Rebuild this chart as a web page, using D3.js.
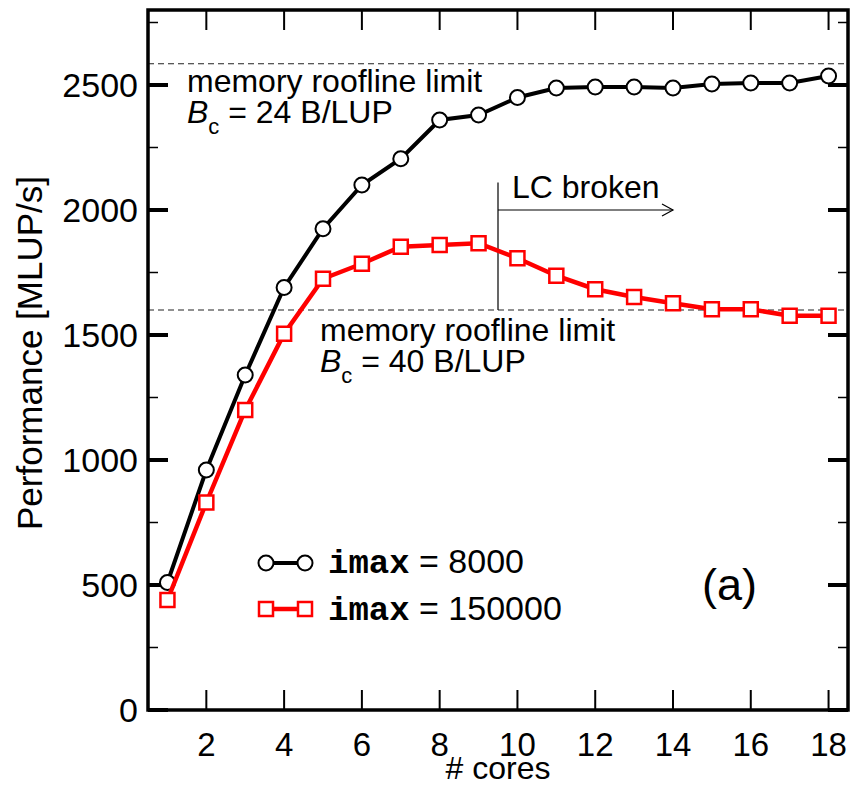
<!DOCTYPE html>
<html>
<head>
<meta charset="utf-8">
<script src="https://cdn.jsdelivr.net/npm/d3@7"></script>
<style>
  html, body { margin: 0; padding: 0; background: #fff; }
  svg { display: block; }
  text { font-family: "Liberation Sans", Arial, Helvetica, sans-serif; fill: #000; }
</style>
</head>
<body>
<svg id="chart" width="852" height="785"></svg>
<script>
// ---- data ----
const cores = [1,2,3,4,5,6,7,8,9,10,11,12,13,14,15,16,17,18];
const imax8000 = [510,960,1340,1690,1925,2100,2205,2360,2380,2450,2488,2492,2492,2488,2504,2508,2508,2536];
const imax150000 = [440,830,1200,1505,1725,1785,1853,1860,1867,1807,1737,1683,1652,1627,1603,1603,1577,1577];
const xTicks = [2,4,6,8,10,12,14,16,18];
const yTicks = [0,500,1000,1500,2000,2500];
const yMinorTicks = [250,750,1250,1750,2250,2750];
const rooflines = [2585, 1600];
const lcBrokenX = 9.5, lcArrowEnd = 14, lcArrowY = 2000, lcTop = 2110;

const svg = d3.select("#chart");
const L = 148, R = 848, T = 10, B = 710;
const x = d3.scaleLinear().domain([0.5, 18.5]).range([L, R]);
const y = d3.scaleLinear().domain([0, 2800]).range([B, T]);

// dashed roofline limits
svg.selectAll("line.roof").data(rooflines).join("line")
  .attr("x1", L).attr("x2", R)
  .attr("y1", d => y(d)).attr("y2", d => y(d))
  .attr("stroke", "#222").attr("stroke-width", 1.2).attr("stroke-dasharray", "6,4");

// LC broken marker
svg.append("line").attr("x1", x(lcBrokenX)).attr("x2", x(lcBrokenX))
  .attr("y1", y(lcTop)).attr("y2", y(rooflines[1]))
  .attr("stroke", "#000").attr("stroke-width", 1.2);
svg.append("line").attr("x1", x(lcBrokenX)).attr("x2", x(lcArrowEnd))
  .attr("y1", y(lcArrowY)).attr("y2", y(lcArrowY))
  .attr("stroke", "#000").attr("stroke-width", 1.2);
svg.append("path")
  .attr("d", `M${x(lcArrowEnd)-11},${y(lcArrowY)-6} L${x(lcArrowEnd)},${y(lcArrowY)} L${x(lcArrowEnd)-11},${y(lcArrowY)+6}`)
  .attr("fill", "none").attr("stroke", "#000").attr("stroke-width", 1.2);
svg.append("text").attr("x", 512).attr("y", 198).attr("font-size", 32).text("LC broken");

// annotations
function roofText(xp, yb, bc) {
  svg.append("text").attr("x", xp).attr("y", yb).attr("font-size", 32).text("memory roofline limit");
  const t = svg.append("text").attr("x", xp).attr("y", yb + 31).attr("font-size", 32);
  t.append("tspan").attr("font-style", "italic").text("B");
  t.append("tspan").attr("font-size", 22).attr("dy", 11).text("c");
  t.append("tspan").attr("dy", -11).text(" = " + bc + " B/LUP");
}
roofText(187, 92, 24);
roofText(320, 341, 40);

// axes frame ticks
const g = svg.append("g");
g.selectAll("line.ymaj").data(yTicks).join("line")
  .attr("x1", L).attr("x2", L + 20).attr("y1", d => y(d)).attr("y2", d => y(d))
  .attr("stroke", "#000").attr("stroke-width", 4);
g.selectAll("line.ymajr").data(yTicks).join("line")
  .attr("x1", R - 20).attr("x2", R).attr("y1", d => y(d)).attr("y2", d => y(d))
  .attr("stroke", "#000").attr("stroke-width", 4);
g.selectAll("line.ymin").data(yMinorTicks).join("line")
  .attr("x1", L).attr("x2", L + 10).attr("y1", d => y(d)).attr("y2", d => y(d))
  .attr("stroke", "#000").attr("stroke-width", 1.5);
g.selectAll("line.yminr").data(yMinorTicks).join("line")
  .attr("x1", R - 10).attr("x2", R).attr("y1", d => y(d)).attr("y2", d => y(d))
  .attr("stroke", "#000").attr("stroke-width", 1.5);
g.selectAll("line.xb").data(xTicks).join("line")
  .attr("x1", d => x(d)).attr("x2", d => x(d)).attr("y1", B).attr("y2", B - 20)
  .attr("stroke", "#000").attr("stroke-width", 2);
g.selectAll("line.xt").data(xTicks).join("line")
  .attr("x1", d => x(d)).attr("x2", d => x(d)).attr("y1", T).attr("y2", T + 20)
  .attr("stroke", "#000").attr("stroke-width", 2);

// tick labels
svg.selectAll("text.yl").data(yTicks).join("text")
  .attr("x", 138).attr("y", d => y(d)).attr("dy", "0.36em")
  .attr("text-anchor", "end").attr("font-size", 34).text(d => d);
svg.selectAll("text.xl").data(xTicks).join("text")
  .attr("x", d => x(d)).attr("y", 756)
  .attr("text-anchor", "middle").attr("font-size", 33).text(d => d);

// axis titles
svg.append("text").attr("x", 498).attr("y", 779).attr("text-anchor", "middle")
  .attr("font-size", 32).text("# cores");
svg.append("text").attr("transform", "translate(42,353) rotate(-90)")
  .attr("text-anchor", "middle").attr("font-size", 35).text("Performance [MLUP/s]");

// series
const line = d3.line().x((d, i) => x(cores[i])).y(d => y(d));
svg.append("path").datum(imax8000).attr("d", line)
  .attr("fill", "none").attr("stroke", "#000").attr("stroke-width", 4);
svg.selectAll("circle.s1").data(imax8000).join("circle")
  .attr("cx", (d, i) => x(cores[i])).attr("cy", d => y(d)).attr("r", 7.5)
  .attr("fill", "#fff").attr("stroke", "#000").attr("stroke-width", 2);

svg.append("path").datum(imax150000).attr("d", line)
  .attr("fill", "none").attr("stroke", "#ff0000").attr("stroke-width", 4.5);
svg.selectAll("rect.s2").data(imax150000).join("rect")
  .attr("x", (d, i) => x(cores[i]) - 7).attr("y", d => y(d) - 7)
  .attr("width", 14).attr("height", 14)
  .attr("fill", "#fff").attr("stroke", "#ff0000").attr("stroke-width", 2.5);

// frame
svg.append("rect").attr("x", L).attr("y", T).attr("width", R - L).attr("height", B - T)
  .attr("fill", "none").attr("stroke", "#000").attr("stroke-width", 3.5);

// legend
const lg = svg.append("g");
lg.append("line").attr("x1", 266).attr("x2", 305).attr("y1", 563).attr("y2", 563)
  .attr("stroke", "#000").attr("stroke-width", 4);
[266, 305].forEach(cx => lg.append("circle").attr("cx", cx).attr("cy", 563).attr("r", 7.5)
  .attr("fill", "#fff").attr("stroke", "#000").attr("stroke-width", 2));
lg.append("line").attr("x1", 266).attr("x2", 305).attr("y1", 609).attr("y2", 609)
  .attr("stroke", "#ff0000").attr("stroke-width", 4.5);
[266, 305].forEach(cx => lg.append("rect").attr("x", cx - 7).attr("y", 602).attr("width", 14).attr("height", 14)
  .attr("fill", "#fff").attr("stroke", "#ff0000").attr("stroke-width", 2.5));
const legendLabels = ["8000", "150000"];
legendLabels.forEach((v, i) => {
  const t = lg.append("text").attr("x", 328).attr("y", 573 + i * 47).attr("font-size", 34);
  t.append("tspan").attr("font-family", "'Liberation Mono', 'Courier New', monospace")
    .attr("font-weight", "bold").text("imax");
  t.append("tspan").text(" = " + v);
});

// panel label
svg.append("text").attr("x", 702).attr("y", 600).attr("font-size", 45).text("(a)");
</script>
</body>
</html>
